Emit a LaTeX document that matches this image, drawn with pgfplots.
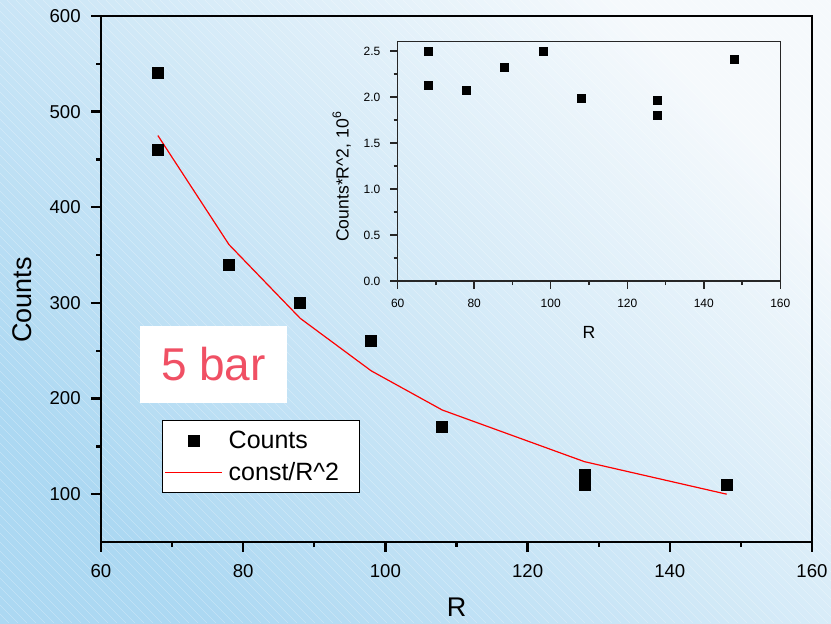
\documentclass[border=0pt]{standalone}
\usepackage{fontspec}
\setmainfont{Liberation Sans}
\usepackage{pgfplots}
\pgfplotsset{compat=1.18}
\definecolor{bgdark}{RGB}{172,216,242}
\definecolor{bglight}{RGB}{245,249,252}
\definecolor{barred}{RGB}{240,80,100}
\pgfplotsset{
  marklegend/.style={legend image code/.code={\draw[##1, mark repeat=2, mark phase=2] plot coordinates {(0pt,0pt) (14.25pt,0pt) (28.5pt,0pt)};}},
  linelegend/.style={legend image code/.code={\draw[draw=red, line width=0.6pt] (0pt,0pt) -- (28.5pt,0pt);}},
}

\begin{document}
\begin{tikzpicture}
% background: diagonal blue gradient, 1px = 0.5pt
\shade[bottom color=bgdark, top color=bglight, shading angle=-45] (0,0) rectangle (415.5pt,311.5pt);
\begin{scope}
\clip (0,0) rectangle (415.5pt,311.5pt);
\foreach \k in {0,4.5,...,740}
  \draw[white, opacity=0.3, line width=0.3pt] (\k pt-311.5pt,311.5pt) -- (\k pt,0pt);
\end{scope}
\useasboundingbox (0,0) rectangle (415.5pt,311.5pt);

% main plot
\begin{axis}[
    at={(50.5pt,40.5pt)}, anchor=south west,
    scale only axis, width=355.5pt, height=263pt,
    xmin=60, xmax=160, ymin=50, ymax=600,
    xtick={60,80,...,160}, ytick={100,200,...,600},
    minor x tick num=1, minor y tick num=1,
    tick pos=left, tick align=outside,
    major tick length=5pt, minor tick length=2.5pt,
    axis line style={line width=1.15pt},
    every tick/.style={line width=1.15pt, black},
    /pgf/number format/assume math mode=true,
    tick label style={font=\fontsize{9.3}{11}\selectfont, inner sep=0pt},
    xticklabel style={anchor=north, yshift=-6pt},
    yticklabel style={anchor=east, xshift=-5pt},
    xlabel={R}, ylabel={Counts},
    label style={font=\fontsize{13.5}{16}\selectfont},
    xlabel style={at={(axis description cs:0.5,-0.1236)}, anchor=center},
    ylabel style={at={(axis description cs:-0.1111,0.46)}, anchor=center},
    legend style={at={(0.0858,0.2319)}, anchor=north west, draw=black,
        line width=0.5pt, fill=white, font=\fontsize{12.5}{15}\selectfont,
        inner xsep=1pt, inner ysep=2pt, row sep=0pt, column sep=2pt,
        nodes={inner sep=1pt, text height=11pt, text depth=3pt}},
    legend cell align=left,
]
\addplot[only marks, mark=square*, mark size=2.75pt, black, marklegend]
  coordinates {(68,540) (68,460) (78,340) (88,300) (98,260) (108,170) (128,120) (128,110) (148,110)};
\addlegendentry{Counts}
\addplot[red, line width=0.6pt, no markers, linelegend]
  coordinates {(68,475) (78,361) (88,284) (98,229) (108,188) (128,134) (148,100)};
\addlegendentry{const/R\textasciicircum 2\rule{8pt}{0pt}}
\end{axis}

% inset
\begin{axis}[
    at={(198.85pt,171pt)}, anchor=south west,
    scale only axis, width=191.3pt, height=119.65pt,
    xmin=60, xmax=160, ymin=0, ymax=2.6,
    xtick={60,80,...,160}, ytick={0,0.5,...,2.5},
    minor x tick num=1, minor y tick num=1,
    tick pos=left, tick align=outside,
    major tick length=3.8pt, minor tick length=2pt,
    axis line style={line width=0.75pt, black!85},
    every tick/.style={line width=0.75pt, black!85},
    /pgf/number format/assume math mode=true,
    yticklabel style={/pgf/number format/fixed, /pgf/number format/fixed zerofill, /pgf/number format/precision=1},
    tick label style={font=\fontsize{6}{7}\selectfont, inner sep=0pt},
    xticklabel style={anchor=north, yshift=-5.3pt},
    yticklabel style={anchor=east, xshift=-4.7pt},
    xlabel={R}, ylabel={Counts*R\textasciicircum 2, 10\textsuperscript{6}},
    label style={font=\fontsize{8.8}{10}\selectfont},
    xlabel style={at={(axis description cs:0.5,-0.2131)}, anchor=center},
    ylabel style={at={(axis description cs:-0.1464,0.437)}, anchor=center},
]
\addplot[only marks, mark=square*, mark size=2pt, black]
  coordinates {(68,2.497) (68,2.127) (78,2.069) (88,2.323) (98,2.497) (108,1.983) (128,1.966) (128,1.802) (148,2.409)};
\end{axis}

% pressure label
\node[fill=white, minimum width=73.5pt, minimum height=38.5pt, inner sep=0pt,
      text=barred, font=\fontsize{23}{23}\selectfont] at (106.75pt,129.25pt) {5 bar};
\end{tikzpicture}
\end{document}
